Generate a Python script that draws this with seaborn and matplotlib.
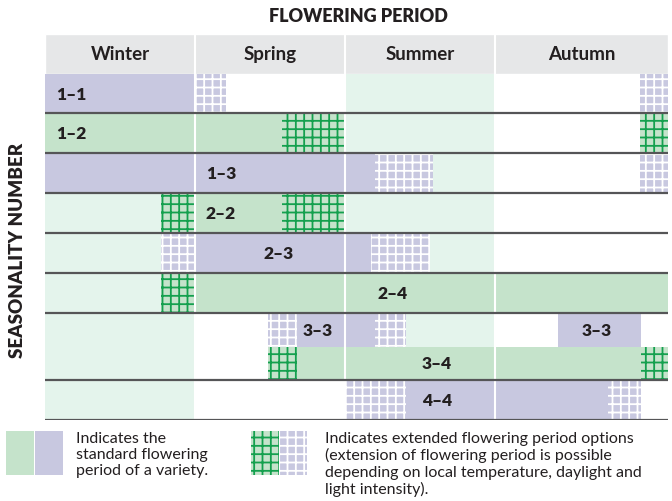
import matplotlib
matplotlib.use("Agg")
import matplotlib.pyplot as plt
from matplotlib.patches import Rectangle
import seaborn as sns
import pandas as pd

sns.set_theme(style="white")
plt.rcParams['font.family'] = ['Lato', 'DejaVu Sans']
plt.rcParams['hatch.linewidth'] = 1.3

# seasons across the top (x in season units, winter starts at 0)
seasons = ['Winter', 'Spring', 'Summer', 'Autumn']
season_start = [0.0, 1.0, 2.0, 3.0]
season_end = [1.0, 2.0, 3.0, 4.15]

varieties = ['1–1', '1–2', '1–3', '2–2', '2–3', '2–4', '3–3', '3–4', '4–4']
variety_colour = ['purple', 'green', 'purple', 'green', 'purple', 'green', 'purple', 'green', 'purple']

# standard flowering period
std_variety = ['1–1', '1–2', '1–3', '2–2', '2–3', '2–4', '3–3', '3–3', '3–4', '4–4']
std_start = [0.0, 0.0, 0.0, 1.0, 1.0, 1.0, 1.68, 3.42, 1.68, 2.405]
std_end = [1.0, 1.58, 2.195, 1.58, 2.17, 4.15, 2.2, 3.97, 3.967, 3.75]

# extended flowering period options
ext_variety = ['1–1', '1–1', '1–2', '1–2', '1–3', '1–3', '2–2', '2–2', '2–3', '2–3',
               '2–4', '3–3', '3–3', '3–4', '3–4', '4–4', '4–4']
ext_start = [1.0, 3.965, 1.58, 3.965, 2.195, 3.965, 0.773, 1.58, 0.773, 2.17,
             0.773, 1.487, 2.2, 1.487, 3.967, 2.0, 3.75]
ext_end = [1.207, 4.15, 2.0, 4.15, 2.585, 4.15, 1.0, 2.0, 1.0, 2.567,
           1.0, 1.68, 2.405, 1.68, 4.15, 2.405, 3.967]

# light green season shading behind the rows
bg_variety = ['1–1', '1–2', '1–3', '2–2', '2–3', '2–4', '3–3', '3–4',
              '2–2', '2–3', '2–4', '3–3', '3–4', '4–4']
bg_start = [2.0] * 8 + [0.0] * 6
bg_end = [3.0] * 8 + [1.0] * 6

label_text = ['1–1', '1–2', '1–3', '2–2', '2–3', '2–4', '3–3', '3–3', '3–4', '4–4']
label_x = [0.178, 0.178, 1.172, 1.172, 1.555, 2.315, 1.817, 3.673, 2.609, 2.609]

std = pd.DataFrame({'variety': std_variety, 'start': std_start, 'end': std_end})
ext = pd.DataFrame({'variety': ext_variety, 'start': ext_start, 'end': ext_end})
bg = pd.DataFrame({'variety': bg_variety, 'start': bg_start, 'end': bg_end})

fill = {'green': '#c5e3cb', 'purple': '#c8c8e0'}
hatch_line = {'green': '#14a04e', 'purple': '#ffffff'}
pale_green = '#e4f4ec'
header_grey = '#e6e7e8'
ink = '#231f20'

# layout (pixel rows of the table)
top, header_h = 35, 40
row_h = [39.5, 39.5, 40, 40, 40, 40, 34, 33, 40]
row_top = {}
y = top + header_h
for v, h in zip(varieties, row_h):
    row_top[v] = (y, h)
    y += h
bottom = y
colour_of = dict(zip(varieties, variety_colour))

W, H = 672, 502
fig = plt.figure(figsize=(W / 100, H / 100), dpi=100)
ax = fig.add_axes([45 / W, (H - bottom) / H, (668 - 45) / W, (bottom - top) / H])
ax.set_xlim(0, season_end[-1])
ax.set_ylim(bottom, top)
ax.axis('off')

# header band
ax.barh(top + header_h / 2, season_end[-1], left=0, height=header_h, color=header_grey, zorder=1)
for s, a, b in zip(seasons, season_start, season_end):
    ax.text((a + b) / 2, top + header_h / 2, s, ha='center', va='center',
            fontsize=13.5, fontweight='bold', color=ink, zorder=6)


def lane(v):
    t, h = row_top[v]
    return t + h / 2, h


for _, r in bg.iterrows():
    yc, h = lane(r.variety)
    ax.barh(yc, r.end - r.start, left=r.start, height=h, color=pale_green, linewidth=0, zorder=1)

for _, r in std.iterrows():
    yc, h = lane(r.variety)
    c = colour_of[r.variety]
    ax.barh(yc, r.end - r.start, left=r.start, height=h, color=fill[c], linewidth=0, zorder=2)

for _, r in ext.iterrows():
    yc, h = lane(r.variety)
    c = colour_of[r.variety]
    ax.barh(yc, r.end - r.start, left=r.start, height=h, color=fill[c],
            edgecolor=hatch_line[c], linewidth=0, hatch='++', zorder=2)

# white season dividers
for x in season_start[1:]:
    ax.axvline(x, color='white', lw=1.5, zorder=3)

# row separators
for v in ['1–1', '1–2', '1–3', '2–2', '2–3', '2–4', '3–4', '4–4']:
    t, h = row_top[v]
    ax.axhline(t + h, color='#555557', lw=1.6, zorder=4)

for txt, x in zip(label_text, label_x):
    yc, _ = lane(txt)
    ax.text(x, yc, txt, ha='center', va='center', fontsize=12.5,
            fontweight='heavy', color=ink, zorder=6)

# overlay for titles and legend, in pixels
ov = fig.add_axes([0, 0, 1, 1], zorder=5)
ov.set_xlim(0, W)
ov.set_ylim(H, 0)
ov.axis('off')
ov.patch.set_visible(False)

ov.text(358, 17, 'FLOWERING PERIOD', ha='center', va='center', fontsize=13,
        fontweight='heavy', color=ink)
ov.text(18, 250, 'SEASONALITY NUMBER', ha='center', va='center', rotation=90,
        fontsize=13.5, fontweight='heavy', color=ink)

ov.add_patch(Rectangle((6, 432), 28, 44, facecolor=fill['green'], linewidth=0))
ov.add_patch(Rectangle((35.3, 432), 28, 44, facecolor=fill['purple'], linewidth=0))
ov.add_patch(Rectangle((250.7, 432), 28, 44, facecolor=fill['green'],
                       edgecolor=hatch_line['green'], linewidth=0, hatch='++'))
ov.add_patch(Rectangle((279.3, 432), 27.4, 44, facecolor=fill['purple'],
                       edgecolor=hatch_line['purple'], linewidth=0, hatch='++'))

ov.text(76, 432, 'Indicates the\nstandard flowering\nperiod of a variety.', ha='left', va='top',
        fontsize=11.5, color=ink, linespacing=1.2)
ov.text(325, 432, 'Indicates extended flowering period options\n(extension of flowering period is possible\n'
        'depending on local temperature, daylight and\nlight intensity).', ha='left', va='top',
        fontsize=11.5, color=ink, linespacing=1.2)

fig.savefig('out.png', dpi=100)
